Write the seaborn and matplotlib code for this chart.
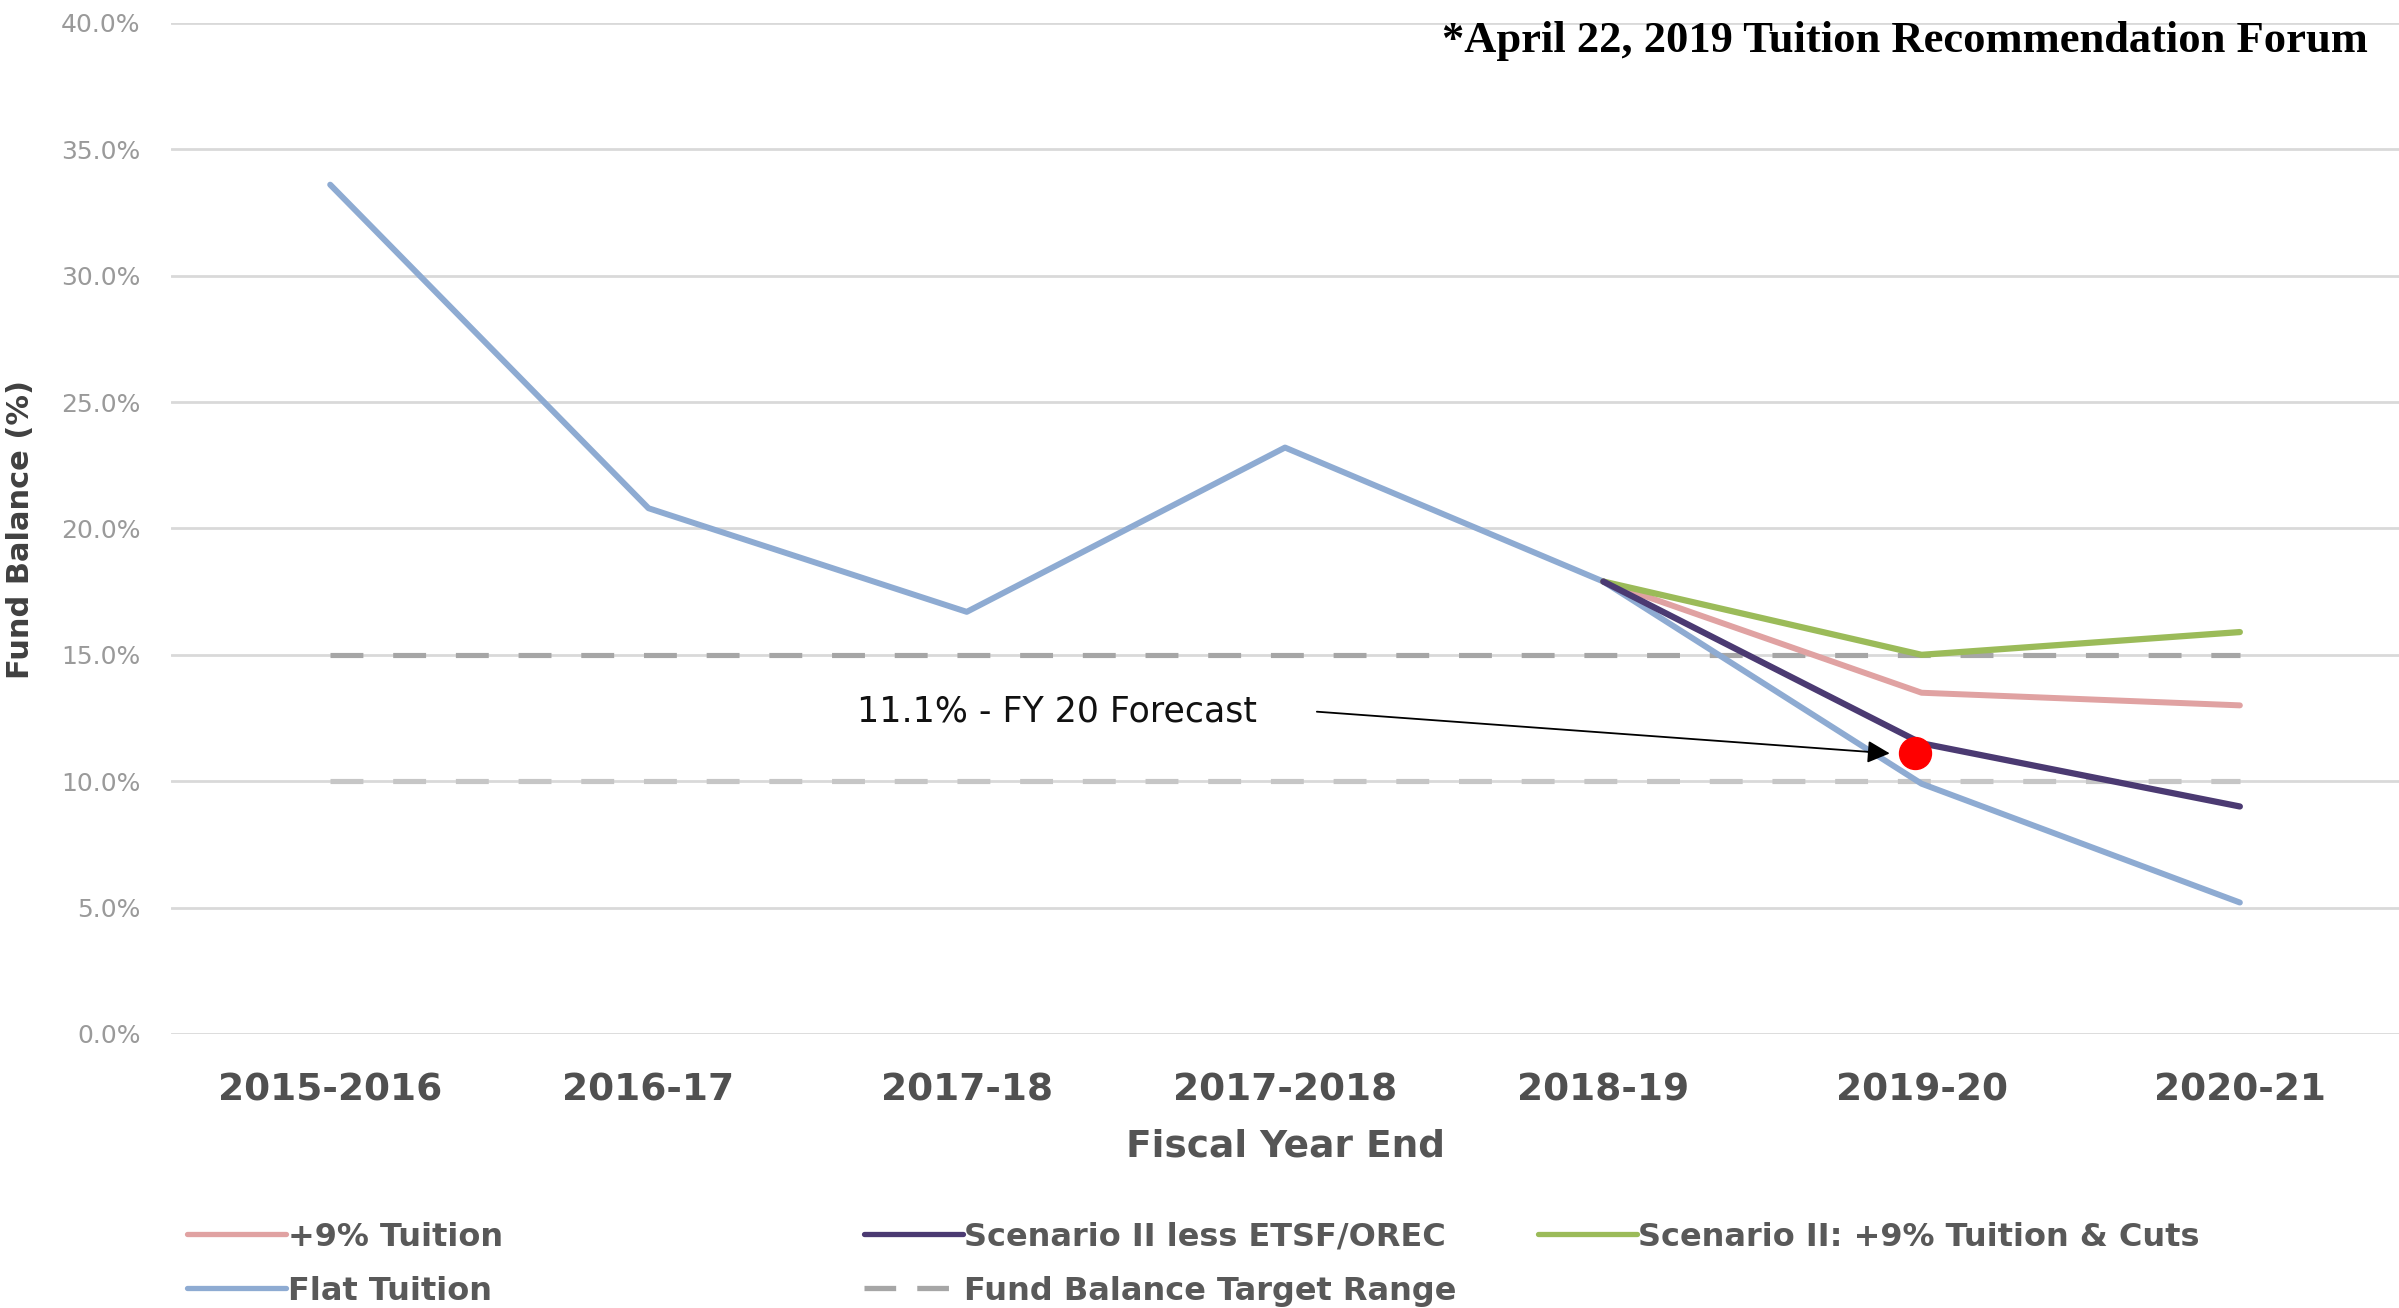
import matplotlib
matplotlib.use("Agg")
import matplotlib.pyplot as plt
import seaborn as sns
import pandas as pd
from matplotlib.lines import Line2D

# ---------------- data ----------------
categories = ["2015-2016", "2016-17", "2017-18", "2017-2018", "2018-19", "2019-20", "2020-21"]
flat_tuition = [33.6, 20.8, 16.7, 23.2, 17.9, 9.9, 5.2]
plus9_cats = ["2018-19", "2019-20", "2020-21"]
plus9_tuition = [17.9, 13.5, 13.0]
scen2_less = [17.9, 11.5, 9.0]
scen2_cuts = [17.9, 15.0, 15.9]
target_high = [15.0, 15.0, 15.0, 15.0, 15.0, 15.0, 15.0]
target_low = [10.0, 10.0, 10.0, 10.0, 10.0, 10.0, 10.0]
forecast_cat = "2019-20"
forecast_val = 11.1
yticks = [0, 5, 10, 15, 20, 25, 30, 35, 40]

idx = {c: i for i, c in enumerate(categories)}

sns.set_theme(style="white")
plt.rcParams['font.family'] = ['DejaVu Sans']

fig = plt.figure(figsize=(23.99, 13.08), dpi=100)
ax = fig.add_axes([0.0713, 0.2095, 0.9287, 0.773])

df_flat = pd.DataFrame({"x": [idx[c] for c in categories], "y": flat_tuition})
df_p9 = pd.DataFrame({"x": [idx[c] for c in plus9_cats], "y": plus9_tuition})
df_s2l = pd.DataFrame({"x": [idx[c] for c in plus9_cats], "y": scen2_less})
df_s2c = pd.DataFrame({"x": [idx[c] for c in plus9_cats], "y": scen2_cuts})
df_th = pd.DataFrame({"x": [idx[c] for c in categories], "y": target_high})
df_tl = pd.DataFrame({"x": [idx[c] for c in categories], "y": target_low})

c_flat = "#8EABD2"
c_p9 = "#E0A2A2"
c_s2l = "#4B3A72"
c_s2c = "#9BBB59"
c_th = "#A6A6A6"
c_tl = "#C6C6C6"

dash = (6.4, 5.8)
sns.lineplot(data=df_th, x="x", y="y", ax=ax, color=c_th, lw=3.7,
             linestyle=(0, dash), zorder=2)
sns.lineplot(data=df_tl, x="x", y="y", ax=ax, color=c_tl, lw=3.7,
             linestyle=(0, dash), zorder=2)
sns.lineplot(data=df_flat, x="x", y="y", ax=ax, color=c_flat, lw=4.3, zorder=3)
sns.lineplot(data=df_p9, x="x", y="y", ax=ax, color=c_p9, lw=4.3, zorder=3)
sns.lineplot(data=df_s2c, x="x", y="y", ax=ax, color=c_s2c, lw=4.5, zorder=3)
sns.lineplot(data=df_s2l, x="x", y="y", ax=ax, color=c_s2l, lw=4.5, zorder=4)

# forecast point
ax.plot([idx[forecast_cat] - 0.02], [forecast_val], 'o', color="#FF0000", ms=23, zorder=6)
ax.annotate("", xy=(4.90, forecast_val), xytext=(3.10, 12.75),
            arrowprops=dict(arrowstyle='-|>', lw=1.3, color='black', mutation_scale=34,
                            shrinkA=0, shrinkB=0), zorder=7)
ax.text(1.655, 12.75, "11.1% - FY 20 Forecast", ha='left', va='center',
        fontsize=25, color='#111111')

ax.set_xlim(-0.5, 6.5)
ax.set_ylim(0, 40)
ax.set_yticks(yticks)
ax.set_yticklabels([f"{v:.1f}%" for v in yticks], fontsize=18, color="#9A9A9A")
ax.set_xticks(range(len(categories)))
ax.set_xticklabels(categories, fontsize=27, fontweight='bold', color="#505050")
ax.tick_params(axis='y', length=0, pad=22)
ax.tick_params(axis='x', length=0, pad=28)
ax.grid(axis='y', color="#D9D9D9", lw=2)
ax.grid(axis='x', visible=False)
for s in ax.spines.values():
    s.set_visible(False)

ax.set_xlabel("Fiscal Year End", fontsize=27, fontweight='bold', color="#555555", labelpad=14)
ax.set_ylabel("")
fig.text(0.0085, 0.595, "Fund Balance (%)", rotation=90, ha='center', va='center',
         fontsize=22, fontweight='bold', color="#404040")

fig.text(0.987, 0.9687, "*April 22, 2019 Tuition Recommendation Forum", ha='right', va='center',
         fontsize=32, fontweight='bold', color='black', family=['Liberation Serif', 'DejaVu Serif'])

# legends
def h(color, ls='-'):
    return Line2D([0], [0], color=color, lw=3.8, linestyle=ls)

legcfg = dict(frameon=False, handlelength=3.1, handletextpad=0.05,
              labelspacing=0.72, borderpad=0, borderaxespad=0, loc='upper left',
              prop={'weight': 'bold', 'size': 23})
yl = 0.066
l1 = fig.legend([h(c_p9), h(c_flat)], ["+9% Tuition", "Flat Tuition"],
                bbox_to_anchor=(0.078, yl), **legcfg)
l2 = fig.legend([h(c_th, (0, (6, 4)))], ["Fund Balance Target Range"], bbox_to_anchor=(0.36, yl), **legcfg)
l2.remove()
l2 = fig.legend([h(c_s2l), h(c_th, (0, (6, 4)))], ["Scenario II less ETSF/OREC", "Fund Balance Target Range"],
                bbox_to_anchor=(0.36, yl), **legcfg)
l3 = fig.legend([h(c_s2c)], ["Scenario II: +9% Tuition & Cuts"],
                bbox_to_anchor=(0.641, yl), **legcfg)
for l in (l1, l2, l3):
    for t in l.get_texts():
        t.set_color("#595959")

fig.savefig("out.png", dpi=100)
